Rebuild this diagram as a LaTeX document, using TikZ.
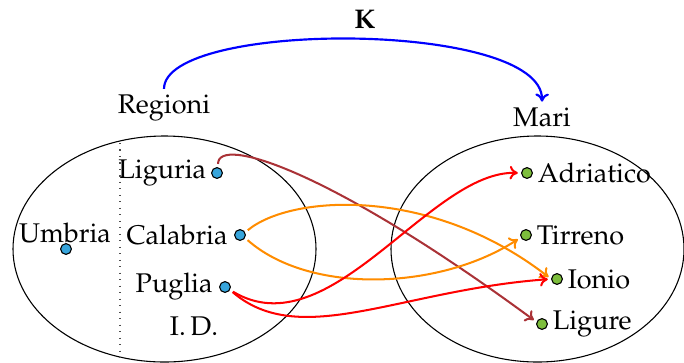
\documentclass[tikz,border=0pt]{standalone}
\usepackage[T1]{fontenc}
\usepackage{mathpazo}
\usetikzlibrary{arrows.meta}
\definecolor{dotblue}{RGB}{55,165,220}
\definecolor{dotgreen}{RGB}{125,190,60}
\definecolor{linkbrown}{RGB}{170,50,55}
\definecolor{linkorange}{RGB}{255,140,0}
\begin{document}
\begin{tikzpicture}[x=0.37pt,y=-0.37pt,
  bdot/.style={circle,draw=black,line width=0.4pt,fill=dotblue,inner sep=0pt,minimum size=4pt},
  gdot/.style={circle,draw=black,line width=0.4pt,fill=dotgreen,inner sep=0pt,minimum size=4pt},
  lbl/.style={inner sep=1pt,font=\normalsize},
  link/.style={line width=0.75pt,-{To[length=3pt,width=5pt]},shorten <=1.2pt,shorten >=1.2pt},
  set/.style={draw=black,line width=0.4pt}]
\useasboundingbox (0,0) rectangle (684,362);
% sets
\draw[set] (164.5,249) ellipse [x radius=151.5, y radius=113];
\draw[set] (537.5,249) ellipse [x radius=146.5, y radius=113];
\coordinate (dtop) at (120,143);
\coordinate (dbot) at (120,362);
\draw[black!70,line width=0.4pt,dotted] (dtop) -- (dbot);
% titles
\node[lbl] (reg) at (164,108) {Regioni};
\node[lbl] (mari) at (542,117) {Mari};
\node[lbl] (k) at (365,20) {\textbf{K}};
% left dots
\node[bdot] (lig) at (217,173) {};
\node[bdot] (cal) at (240,235) {};
\node[bdot] (pug) at (225,287) {};
\node[bdot] (umb) at (66,249) {};
\node[lbl,anchor=east] (ligT) at ([xshift=-0.6pt]lig.west) {Liguria};
\node[lbl,anchor=east] (calT) at ([xshift=-1.2pt]cal.west) {Calabria};
\node[lbl,anchor=east] (pugT) at ([xshift=-1.2pt]pug.west) {Puglia};
\node[lbl] (umbT) at (65,233) {Umbria};
\node[lbl] (id) at (194,326) {I.\,D.};
% right dots
\node[gdot] (adr) at (527,173) {};
\node[gdot] (tir) at (526,235) {};
\node[gdot] (ion) at (557,279) {};
\node[gdot] (lgr) at (542,324) {};
\node[lbl,anchor=west] (adrT) at ([xshift=0.6pt]adr.east) {Adriatico};
\node[lbl,anchor=west] (tirT) at ([xshift=0.6pt]tir.east) {Tirreno};
\node[lbl,anchor=west] (ionT) at ([xshift=0.6pt]ion.east) {Ionio};
\node[lbl,anchor=west] (lgrT) at ([xshift=0.6pt]lgr.east) {Ligure};
% K arrow
\draw[blue,line width=0.8pt,-{To[length=3pt,width=5pt]},shorten <=1pt,shorten >=1pt]
  (reg.north) .. controls (164,20) and (543,20) .. (mari.north);
% links
\draw[link,linkbrown] (lig.80) .. controls (218,135) and (330,170) .. (lgr.160);
\draw[link,linkorange] (cal.27) .. controls (290,195) and (430,185) .. (ion.west);
\draw[link,linkorange] (cal.-30) .. controls (310,295) and (440,290) .. (tir.205);
\draw[link,red] (pug.-30) .. controls (330,350) and (430,170) .. (adr.west);
\draw[link,red] (pug.-30) .. controls (300,350) and (400,290) .. (ion.west);
\end{tikzpicture}
\end{document}
